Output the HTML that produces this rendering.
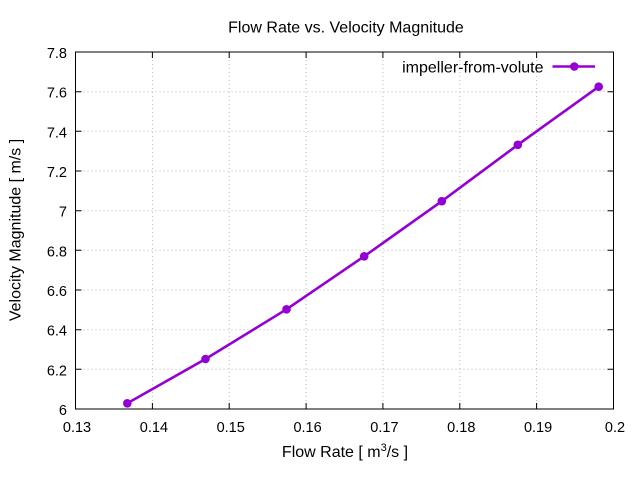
<!DOCTYPE html>
<html>
<head>
<meta charset="utf-8">
<style>
  html, body { margin: 0; padding: 0; background: #ffffff; }
  svg { display: block; }
  text { font-family: "Liberation Sans", Arial, sans-serif; fill: #000; }
</style>
</head>
<body>
<svg width="640" height="480" viewBox="0 0 640 480" xmlns="http://www.w3.org/2000/svg">
  <rect x="0" y="0" width="640" height="480" fill="#ffffff"/>

  <!-- grid -->
  <g stroke="#b8b8b8" stroke-width="1" stroke-dasharray="1,3" fill="none">
    <!-- vertical -->
    <line x1="152.4" y1="52" x2="152.4" y2="409"/>
    <line x1="229.2" y1="52" x2="229.2" y2="409"/>
    <line x1="306.1" y1="52" x2="306.1" y2="409"/>
    <line x1="382.9" y1="52" x2="382.9" y2="409"/>
    <line x1="459.8" y1="52" x2="459.8" y2="409"/>
    <line x1="536.6" y1="52" x2="536.6" y2="409"/>
    <!-- horizontal -->
    <line x1="75.5" y1="369.3" x2="613.5" y2="369.3"/>
    <line x1="75.5" y1="329.7" x2="613.5" y2="329.7"/>
    <line x1="75.5" y1="290.0" x2="613.5" y2="290.0"/>
    <line x1="75.5" y1="250.3" x2="613.5" y2="250.3"/>
    <line x1="75.5" y1="210.7" x2="613.5" y2="210.7"/>
    <line x1="75.5" y1="171.0" x2="613.5" y2="171.0"/>
    <line x1="75.5" y1="131.3" x2="613.5" y2="131.3"/>
    <line x1="75.5" y1="91.7" x2="613.5" y2="91.7"/>
  </g>

  <!-- ticks -->
  <g stroke="#000" stroke-width="1" fill="none">
    <!-- bottom / top x ticks -->
    <path d="M152.4 409v-6 M229.2 409v-6 M306.1 409v-6 M382.9 409v-6 M459.8 409v-6 M536.6 409v-6
             M152.4 52v6 M229.2 52v6 M306.1 52v6 M382.9 52v6 M459.8 52v6 M536.6 52v6"/>
    <!-- left / right y ticks -->
    <path d="M75.5 369.3h6 M75.5 329.7h6 M75.5 290h6 M75.5 250.3h6 M75.5 210.7h6 M75.5 171h6 M75.5 131.3h6 M75.5 91.7h6
             M613.5 369.3h-6 M613.5 329.7h-6 M613.5 290h-6 M613.5 250.3h-6 M613.5 210.7h-6 M613.5 171h-6 M613.5 131.3h-6 M613.5 91.7h-6"/>
  </g>

  <!-- border -->
  <rect x="75.5" y="52" width="538" height="357" fill="none" stroke="#000" stroke-width="1"/>

  <!-- y tick labels -->
  <g font-size="14.5" text-anchor="end">
    <text x="67" y="415">6</text>
    <text x="67" y="375.3">6.2</text>
    <text x="67" y="335.7">6.4</text>
    <text x="67" y="296">6.6</text>
    <text x="67" y="256.3">6.8</text>
    <text x="67" y="216.7">7</text>
    <text x="67" y="177">7.2</text>
    <text x="67" y="137.3">7.4</text>
    <text x="67" y="97.7">7.6</text>
    <text x="67" y="58">7.8</text>
  </g>

  <!-- x tick labels -->
  <g font-size="14.5" text-anchor="middle">
    <text x="77" y="432">0.13</text>
    <text x="153.9" y="432">0.14</text>
    <text x="230.7" y="432">0.15</text>
    <text x="307.6" y="432">0.16</text>
    <text x="384.4" y="432">0.17</text>
    <text x="461.3" y="432">0.18</text>
    <text x="538.1" y="432">0.19</text>
    <text x="615" y="432">0.2</text>
  </g>

  <!-- title -->
  <text x="346" y="32.5" font-size="16" text-anchor="middle">Flow Rate vs. Velocity Magnitude</text>

  <!-- x label -->
  <text x="345" y="457" font-size="16" text-anchor="middle">Flow Rate [ m<tspan font-size="11" dy="-6">3</tspan><tspan dy="6">/s ]</tspan></text>

  <!-- y label -->
  <text x="20.5" y="230" font-size="16" text-anchor="middle" transform="rotate(-90 20.5 230)">Velocity Magnitude [ m/s ]</text>

  <!-- series -->
  <polyline fill="none" stroke="#9400d3" stroke-width="2.6" stroke-linejoin="round"
    points="127.3,403.3 205.5,359 286.5,309.3 364.2,256.3 441.8,201.2 517.8,144.8 598.7,86.7"/>
  <g fill="#9400d3">
    <circle cx="127.3" cy="403.3" r="4.3"/>
    <circle cx="205.5" cy="359" r="4.3"/>
    <circle cx="286.5" cy="309.3" r="4.3"/>
    <circle cx="364.2" cy="256.3" r="4.3"/>
    <circle cx="441.8" cy="201.2" r="4.3"/>
    <circle cx="517.8" cy="144.8" r="4.3"/>
    <circle cx="598.7" cy="86.7" r="4.3"/>
  </g>

  <!-- legend -->
  <text x="543.5" y="72.7" font-size="16" text-anchor="end">impeller-from-volute</text>
  <line x1="552.5" y1="66.5" x2="595" y2="66.5" stroke="#9400d3" stroke-width="2.6"/>
  <circle cx="574.3" cy="66.5" r="4.3" fill="#9400d3"/>
</svg>
</body>
</html>
